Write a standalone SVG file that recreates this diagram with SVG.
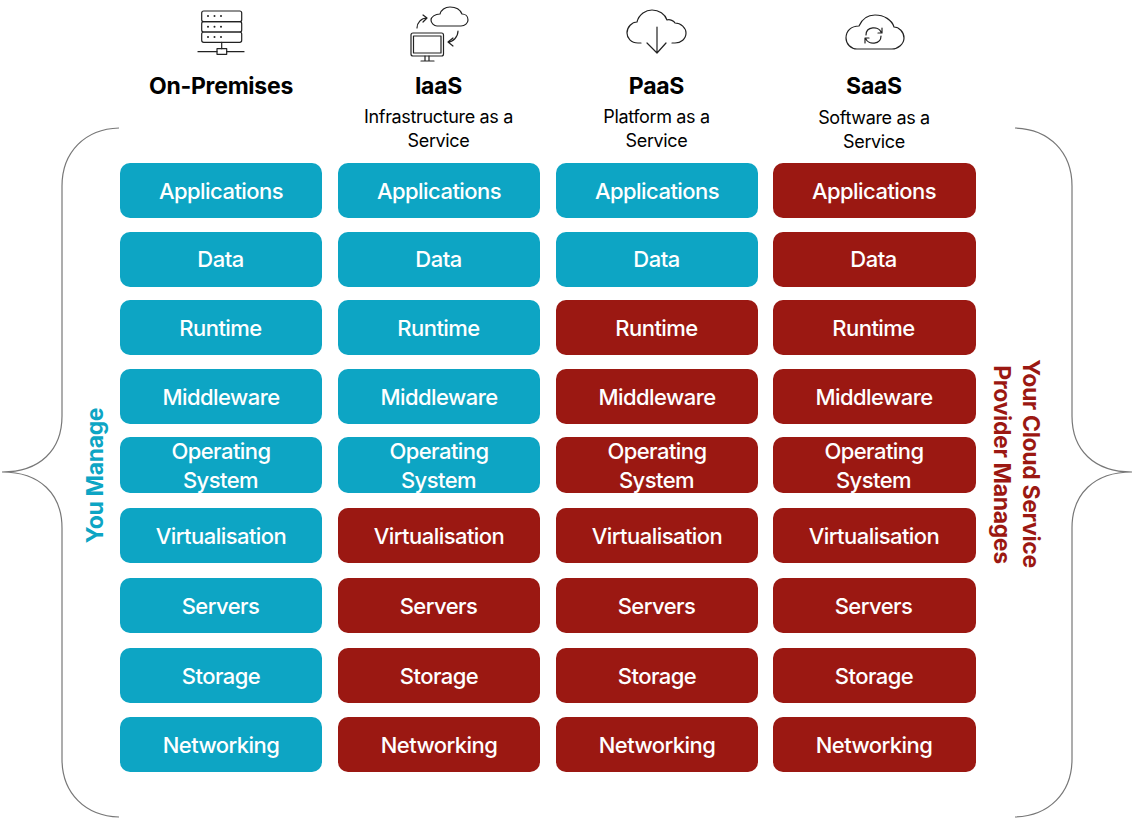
<svg xmlns="http://www.w3.org/2000/svg" width="1134" height="818" viewBox="0 0 1134 818">
<style>
text{font-family:Inter,"Liberation Sans",sans-serif;text-anchor:middle}
.t{font-size:22px;font-weight:500;fill:#fff;letter-spacing:-.55px}
.h{font-size:23px;font-weight:700;fill:#000;letter-spacing:-.25px}
.s{font-size:18px;fill:#000;letter-spacing:-.35px}
.v{font-size:23px;font-weight:700;letter-spacing:-.35px}
.b{fill:#0da5c4}.r{fill:#9b1812}
.brace{fill:none;stroke:#777;stroke-width:1.2}
.i{fill:none;stroke:#222;stroke-width:1.2;stroke-linecap:round;stroke-linejoin:round}
.d{fill:#222}
</style>
<g id="connectors">
<path class="brace" d="M119 128C85 129 62 152 62 186V416C62 450 40 472 2 472C40 472 62 494 62 528V759C62 793 85 816 119 817"/>
<path class="brace" d="M1015 128C1049 129 1072 152 1072 186V416C1072 450 1094 472 1132 472C1094 472 1072 494 1072 528V759C1072 793 1049 816 1015 817"/>
</g>
<g id="icon-onprem">
<rect class="i" x="201.700" y="11" width="40" height="10.700" rx="2"/><rect class="i" x="201.700" y="21.700" width="40" height="10.300" rx="2"/><rect class="i" x="201.700" y="32" width="40" height="10.300" rx="2"/>
<path class="i" d="M221.700 42.300V48.700M198 51.700H217M226.700 51.700H244"/><rect class="i" x="217" y="48.700" width="9.700" height="5.600"/>
<circle class="d" cx="208" cy="16" r="1"/><circle class="d" cx="214.500" cy="16" r="1"/><circle class="d" cx="221" cy="16" r="1"/>
<circle class="d" cx="208" cy="26.800" r="1"/><circle class="d" cx="214.500" cy="26.800" r="1"/><circle class="d" cx="221" cy="26.800" r="1"/>
<circle class="d" cx="208" cy="37" r="1"/><circle class="d" cx="214.500" cy="37" r="1"/><circle class="d" cx="221" cy="37" r="1"/>
</g>
<g id="icon-iaas">
<path class="i" d="M437 26H461C465 26 468 23 468 20C468 16 465 14 462 14C460 9 455 7 450 7C445 7 441 10 440 14C435 14 431 17 431 20C431 23 434 26 437 26Z"/>
<rect class="i" x="411" y="33" width="32.500" height="23" rx="2"/><rect class="i" x="413.500" y="36" width="27.500" height="17"/>
<path class="i" d="M425 56V61M429 56V61M421 61H434"/>
<path class="i" d="M417 28C417 23 421 18 427 18M423 15L427 18L423 22"/>
<path class="i" d="M458 31C458 37 453 42 448 42M453 38L448 42L453 46"/>
</g>
<g id="icon-paas">
<path class="i" d="M641 43H638C631 43 627 38 627 33C627 27 632 22 637 22C639 14 646 10 652 10C659 10 665 14 667 20C670 19 674 21 675 23C681 23 686 28 686 33C686 39 681 43 675 43H672"/>
<path class="i" d="M657 27V53M647 43L657 53L666 43"/>
</g>
<g id="icon-saas">
<path class="i" d="M857 49H892C898 49 904 44 904 38C904 32 899 27 894 27C892 20 884 15 875 15C868 15 862 19 859 26C851 26 846 31 846 38C846 44 851 49 857 49Z"/>
<path class="i" d="M866 35C866 26 879 26 881 32M882 28V33H878M881 36C881 45 868 45 866 39M865 43V38H869"/>
</g>
<g id="head-onprem"><text class="h" x="221" y="94">On-Premises</text></g>
<g id="head-iaas"><text class="h" x="438.500" y="94">IaaS</text><text class="s" x="438.500" y="123">Infrastructure as a</text><text class="s" x="438.500" y="147">Service</text></g>
<g id="head-paas"><text class="h" x="656.500" y="94">PaaS</text><text class="s" x="656.500" y="123">Platform as a</text><text class="s" x="656.500" y="147">Service</text></g>
<g id="head-saas"><text class="h" x="874" y="94">SaaS</text><text class="s" x="874" y="124">Software as a</text><text class="s" x="874" y="148">Service</text></g>
<g id="label-you"><text class="v b" transform="translate(103 475.500) rotate(-90)">You Manage</text></g>
<g id="label-provider"><text class="v r" transform="translate(1023 463.500) rotate(90)">Your Cloud Service</text><text class="v r" transform="translate(993.500 464.500) rotate(90)">Provider Manages</text></g>
<g id="n1-1"><rect class="b" x="120" y="163" width="202" height="55" rx="10"/><text class="t" x="221" y="199">Applications</text></g>
<g id="n1-2"><rect class="b" x="338" y="163" width="202" height="55" rx="10"/><text class="t" x="439" y="199">Applications</text></g>
<g id="n1-3"><rect class="b" x="556" y="163" width="202" height="55" rx="10"/><text class="t" x="657" y="199">Applications</text></g>
<g id="n1-4"><rect class="r" x="773" y="163" width="203" height="55" rx="10"/><text class="t" x="874" y="199">Applications</text></g>
<g id="n2-1"><rect class="b" x="120" y="232" width="202" height="55" rx="10"/><text class="t" x="220.500" y="267">Data</text></g>
<g id="n2-2"><rect class="b" x="338" y="232" width="202" height="55" rx="10"/><text class="t" x="438.500" y="267">Data</text></g>
<g id="n2-3"><rect class="b" x="556" y="232" width="202" height="55" rx="10"/><text class="t" x="656.500" y="267">Data</text></g>
<g id="n2-4"><rect class="r" x="773" y="232" width="203" height="55" rx="10"/><text class="t" x="873.500" y="267">Data</text></g>
<g id="n3-1"><rect class="b" x="120" y="300" width="202" height="55" rx="10"/><text class="t" x="220.500" y="336">Runtime</text></g>
<g id="n3-2"><rect class="b" x="338" y="300" width="202" height="55" rx="10"/><text class="t" x="438.500" y="336">Runtime</text></g>
<g id="n3-3"><rect class="r" x="556" y="300" width="202" height="55" rx="10"/><text class="t" x="656.500" y="336">Runtime</text></g>
<g id="n3-4"><rect class="r" x="773" y="300" width="203" height="55" rx="10"/><text class="t" x="873.500" y="336">Runtime</text></g>
<g id="n4-1"><rect class="b" x="120" y="369" width="202" height="55" rx="10"/><text class="t" x="221" y="405">Middleware</text></g>
<g id="n4-2"><rect class="b" x="338" y="369" width="202" height="55" rx="10"/><text class="t" x="439" y="405">Middleware</text></g>
<g id="n4-3"><rect class="r" x="556" y="369" width="202" height="55" rx="10"/><text class="t" x="657" y="405">Middleware</text></g>
<g id="n4-4"><rect class="r" x="773" y="369" width="203" height="55" rx="10"/><text class="t" x="874" y="405">Middleware</text></g>
<g id="n5-1"><rect class="b" x="120" y="437" width="202" height="56" rx="10"/><text class="t" x="221" y="459">Operating</text><text class="t" x="220.500" y="488">System</text></g>
<g id="n5-2"><rect class="b" x="338" y="437" width="202" height="56" rx="10"/><text class="t" x="439" y="459">Operating</text><text class="t" x="438.500" y="488">System</text></g>
<g id="n5-3"><rect class="r" x="556" y="437" width="202" height="56" rx="10"/><text class="t" x="657" y="459">Operating</text><text class="t" x="656.500" y="488">System</text></g>
<g id="n5-4"><rect class="r" x="773" y="437" width="203" height="56" rx="10"/><text class="t" x="874" y="459">Operating</text><text class="t" x="873.500" y="488">System</text></g>
<g id="n6-1"><rect class="b" x="120" y="508" width="202" height="55" rx="10"/><text class="t" x="221" y="544">Virtualisation</text></g>
<g id="n6-2"><rect class="r" x="338" y="508" width="202" height="55" rx="10"/><text class="t" x="439" y="544">Virtualisation</text></g>
<g id="n6-3"><rect class="r" x="556" y="508" width="202" height="55" rx="10"/><text class="t" x="657" y="544">Virtualisation</text></g>
<g id="n6-4"><rect class="r" x="773" y="508" width="203" height="55" rx="10"/><text class="t" x="874" y="544">Virtualisation</text></g>
<g id="n7-1"><rect class="b" x="120" y="578" width="202" height="55" rx="10"/><text class="t" x="220.500" y="614">Servers</text></g>
<g id="n7-2"><rect class="r" x="338" y="578" width="202" height="55" rx="10"/><text class="t" x="438.500" y="614">Servers</text></g>
<g id="n7-3"><rect class="r" x="556" y="578" width="202" height="55" rx="10"/><text class="t" x="656.500" y="614">Servers</text></g>
<g id="n7-4"><rect class="r" x="773" y="578" width="203" height="55" rx="10"/><text class="t" x="873.500" y="614">Servers</text></g>
<g id="n8-1"><rect class="b" x="120" y="648" width="202" height="55" rx="10"/><text class="t" x="221" y="684">Storage</text></g>
<g id="n8-2"><rect class="r" x="338" y="648" width="202" height="55" rx="10"/><text class="t" x="439" y="684">Storage</text></g>
<g id="n8-3"><rect class="r" x="556" y="648" width="202" height="55" rx="10"/><text class="t" x="657" y="684">Storage</text></g>
<g id="n8-4"><rect class="r" x="773" y="648" width="203" height="55" rx="10"/><text class="t" x="874" y="684">Storage</text></g>
<g id="n9-1"><rect class="b" x="120" y="717" width="202" height="55" rx="10"/><text class="t" x="221" y="753">Networking</text></g>
<g id="n9-2"><rect class="r" x="338" y="717" width="202" height="55" rx="10"/><text class="t" x="439" y="753">Networking</text></g>
<g id="n9-3"><rect class="r" x="556" y="717" width="202" height="55" rx="10"/><text class="t" x="657" y="753">Networking</text></g>
<g id="n9-4"><rect class="r" x="773" y="717" width="203" height="55" rx="10"/><text class="t" x="874" y="753">Networking</text></g>
</svg>
